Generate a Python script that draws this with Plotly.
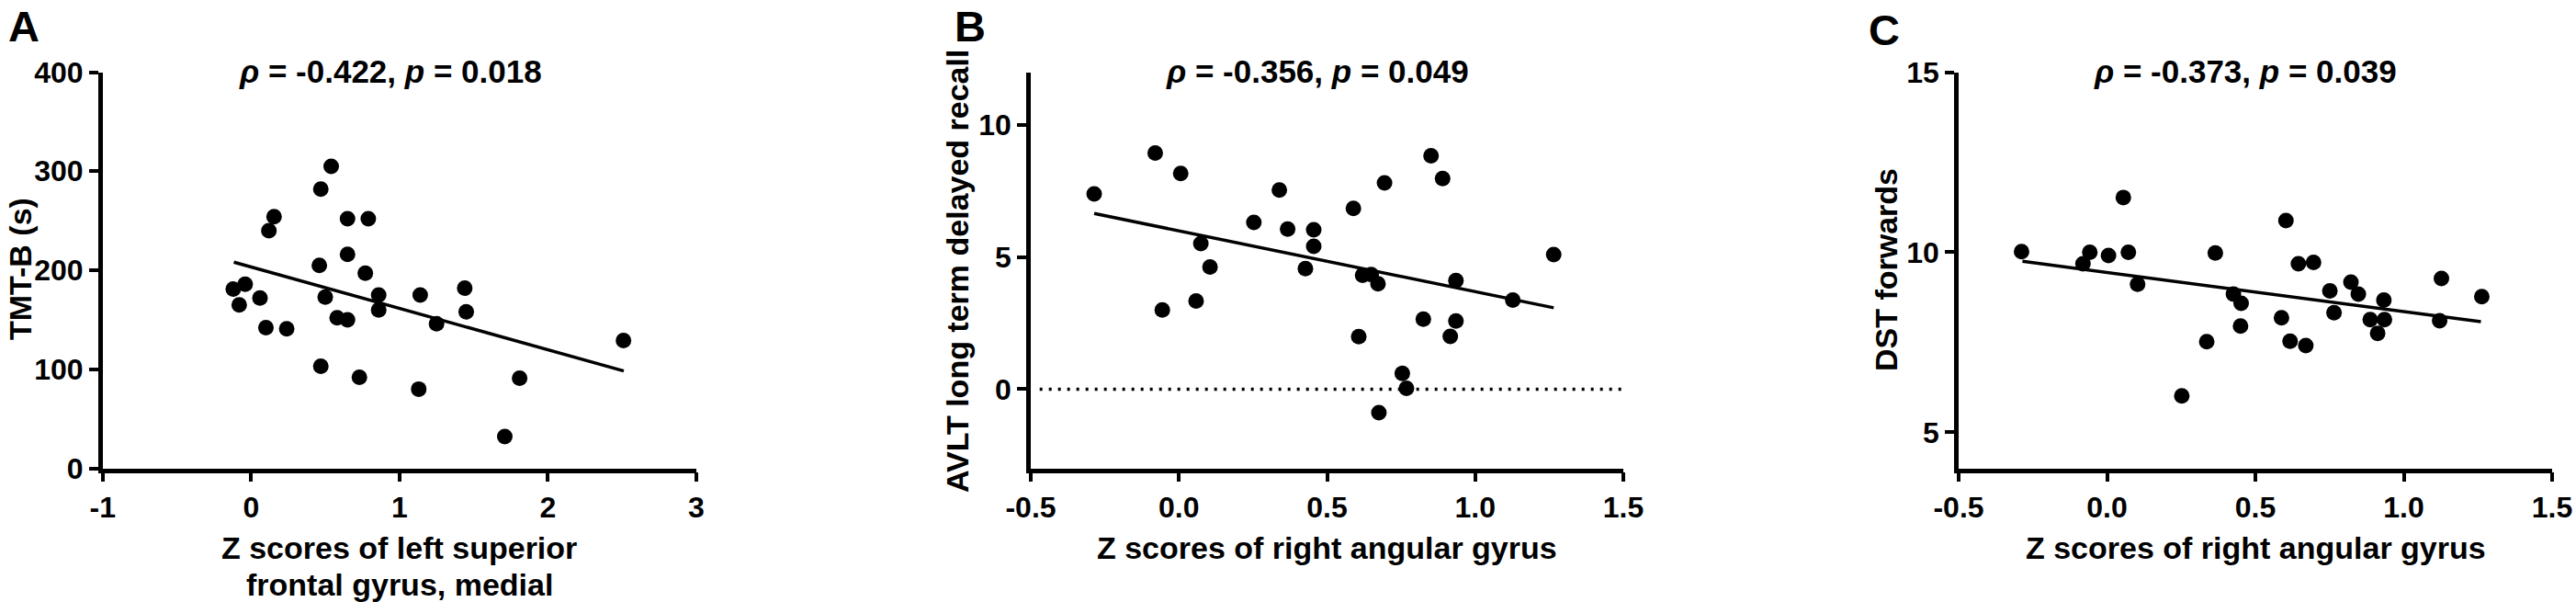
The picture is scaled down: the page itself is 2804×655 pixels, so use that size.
import plotly.graph_objects as go
from plotly.subplots import make_subplots

W, H = 2804, 655

# panel A: TMT-B vs left superior frontal gyrus, medial
a_x = [-0.12, -0.04, -0.08, 0.06, 0.10, 0.24, 0.12, 0.155, 0.47, 0.54,
       0.46, 0.50, 0.47, 0.58, 0.65, 0.65, 0.79, 0.65, 0.77, 0.73,
       0.86, 0.86, 1.14, 1.13, 1.25, 1.44, 1.45, 1.71, 1.81, 2.51]
a_y = [181, 186, 165, 172, 142, 141, 240, 254, 282, 305,
       205, 173, 103, 152, 150, 252, 252, 216, 197, 92,
       175, 160, 175, 80, 146, 182, 158, 32, 91, 129]
a_fit_x = [-0.116, 2.512]
a_fit_y = [208.2, 98.3]

# panel B: AVLT long term delayed recall vs right angular gyrus
b_x = [-0.286, -0.080, 0.006, -0.056, 0.058, 0.074, 0.105, 0.253, 0.339, 0.367,
       0.427, 0.455, 0.455, 0.589, 0.607, 0.620, 0.649, 0.672, 0.694, 0.675,
       0.754, 0.768, 0.825, 0.851, 0.890, 0.916, 0.935, 0.935, 1.127, 1.265]
b_y = [7.39, 8.94, 8.16, 3.00, 3.34, 5.51, 4.62, 6.31, 7.54, 6.06,
       4.56, 6.03, 5.41, 6.84, 1.99, 4.31, 4.34, 3.99, 7.81, -0.89,
       0.60, 0.03, 2.65, 8.83, 7.97, 2.00, 4.11, 2.58, 3.37, 5.09]
b_fit_x = [-0.286, 1.265]
b_fit_y = [6.65, 3.08]

# panel C: DST forwards vs right angular gyrus
c_x = [-0.288, -0.081, -0.058, 0.005, 0.055, 0.072, 0.103, 0.252, 0.336, 0.365,
       0.426, 0.452, 0.450, 0.588, 0.603, 0.617, 0.645, 0.670, 0.696, 0.751,
       0.765, 0.822, 0.847, 0.887, 0.933, 0.935, 0.912, 1.127, 1.121, 1.263]
c_y = [10.02, 9.68, 10.00, 9.91, 11.52, 10.00, 9.11, 6.01, 7.52, 9.98,
       8.84, 8.58, 7.95, 8.18, 10.88, 7.53, 9.68, 7.41, 9.72, 8.93,
       8.32, 9.17, 8.84, 8.13, 8.67, 8.13, 7.75, 9.27, 8.10, 8.77]
c_fit_x = [-0.285, 1.260]
c_fit_y = [9.75, 8.07]

panel_letters = ["A", "B", "C"]
stats_text = ["<i>ρ</i> = -0.422, <i>p</i> = 0.018",
              "<i>ρ</i> = -0.356, <i>p</i> = 0.049",
              "<i>ρ</i> = -0.373, <i>p</i> = 0.039"]
x_titles = [["Z scores of left superior", "frontal gyrus, medial"],
            ["Z scores of right angular gyrus"],
            ["Z scores of right angular gyrus"]]
y_titles = ["TMT-B (s)", "AVLT long term delayed recall", "DST forwards"]

a_xticks = [-1, 0, 1, 2, 3]
a_yticks = [0, 100, 200, 300, 400]
bc_xticks = [-0.5, 0.0, 0.5, 1.0, 1.5]
bc_xtext = ["-0.5", "0.0", "0.5", "1.0", "1.5"]
b_yticks = [0, 5, 10]
c_yticks = [5, 10, 15]

FONT = "Liberation Sans, Arial, sans-serif"

fig = make_subplots(rows=1, cols=3)

panels = [(a_x, a_y, a_fit_x, a_fit_y), (b_x, b_y, b_fit_x, b_fit_y),
          (c_x, c_y, c_fit_x, c_fit_y)]
for i, (px, py, fx, fy) in enumerate(panels):
    fig.add_trace(go.Scatter(x=fx, y=fy, mode="lines",
                             line=dict(color="black", width=3.5),
                             showlegend=False, hoverinfo="skip"),
                  row=1, col=i + 1)
    fig.add_trace(go.Scatter(x=px, y=py, mode="markers",
                             marker=dict(color="black", size=17),
                             showlegend=False),
                  row=1, col=i + 1)

# dotted zero line in panel B
fig.add_trace(go.Scatter(x=[-0.47, 1.5], y=[0, 0], mode="lines",
                         line=dict(color="black", width=3.5, dash="3px,7px"),
                         showlegend=False, hoverinfo="skip"),
              row=1, col=2)

# plot areas in pixels
x_left = [111.8, 1122, 2132]
x_right = [757.8, 1767, 2778]
y_top, y_bottom = 78.5, 509.6

axis_style = dict(showgrid=False, zeroline=False, showline=True, automargin=False,
                  linecolor="black", linewidth=4.5, ticks="outside",
                  ticklen=10, tickwidth=4, tickcolor="black",
                  tickfont=dict(family=FONT, size=32, color="black", weight="bold"))

x_ranges = [[-1, 3], [-0.5, 1.5], [-0.5, 1.5]]
y_ranges = [[0, 400], [-3, 12], [4, 15]]
x_tickvals = [a_xticks, bc_xticks, bc_xticks]
x_ticktext = [[str(t) for t in a_xticks], bc_xtext, bc_xtext]
y_tickvals = [a_yticks, b_yticks, c_yticks]

for i in range(3):
    fig.update_xaxes(domain=[x_left[i] / W, x_right[i] / W], range=x_ranges[i],
                     tickvals=x_tickvals[i], ticktext=x_ticktext[i],
                     row=1, col=i + 1, **axis_style)
    fig.update_yaxes(domain=[1 - y_bottom / H, 1 - y_top / H], range=y_ranges[i],
                     tickvals=y_tickvals[i], row=1, col=i + 1, **axis_style)


def px_note(text, x, y, size, xanchor="center", yanchor="middle", angle=0):
    fig.add_annotation(text=text, x=x / W, y=1 - y / H, xref="paper", yref="paper",
                       xanchor=xanchor, yanchor=yanchor, showarrow=False,
                       textangle=angle,
                       font=dict(family=FONT, size=size, color="black", weight="bold"))


letter_pos = [(7, 0), (1037, 0), (2032, 4)]
stats_x = [425, 1434, 2444]
ytitle_x = [22, 1042, 2053]
ytitle_y = [293, 295, 294]
for i in range(3):
    px_note(panel_letters[i], letter_pos[i][0], letter_pos[i][1], 47,
            xanchor="left", yanchor="top")
    px_note(stats_text[i], stats_x[i], 78, 35)
    cx = (x_left[i] + x_right[i]) / 2
    for j, line in enumerate(x_titles[i]):
        px_note(line, cx, 596 + 40 * j, 34)
    px_note(y_titles[i], ytitle_x[i], ytitle_y[i], 34, angle=-90)

fig.update_layout(width=W, height=H, margin=dict(l=0, r=0, t=0, b=0),
                  plot_bgcolor="white", paper_bgcolor="white",
                  font=dict(family=FONT, color="black"))

# drop the default body margin so the figure sits at the window's corner
fig.write_html("out.html", config={"displayModeBar": False},
               post_script="document.body.style.margin='0';"
                           "document.body.style.overflow='hidden';")
